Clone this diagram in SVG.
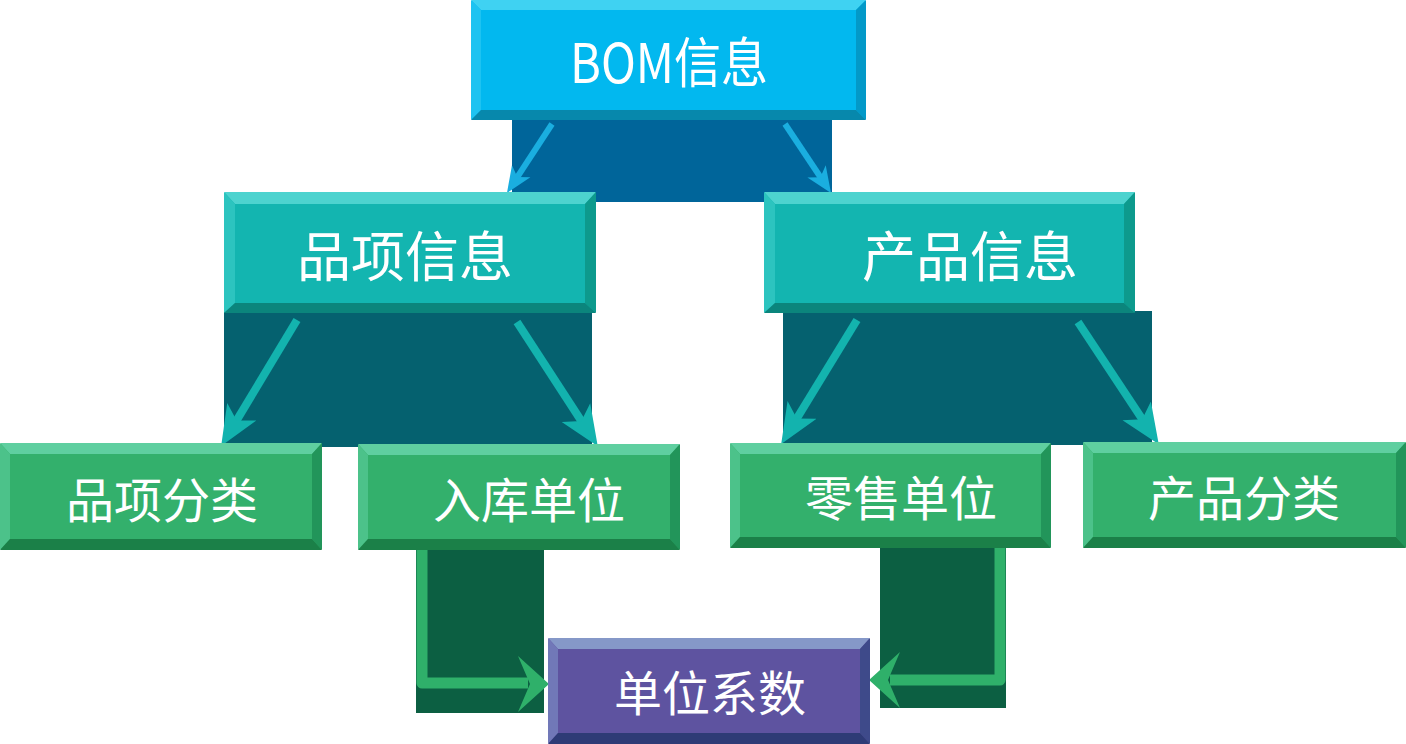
<svg xmlns="http://www.w3.org/2000/svg" width="1406" height="744" viewBox="0 0 1406 744">
<defs>
<style>
.t{font-family:"Noto Sans CJK SC","Liberation Sans",sans-serif;fill:#ffffff;text-anchor:middle}
.l1{font-size:54px}.l2{font-size:54px}.l3{font-size:48px}
.ab{fill:none;stroke:#1aaee0;stroke-width:6}
.at{fill:none;stroke:#13b3ae;stroke-width:8}
.ag{fill:none;stroke:#2fb06a;stroke-width:11;stroke-linejoin:round}
</style>
<marker id="mb" markerUnits="userSpaceOnUse" viewBox="0 -12 28 24" markerWidth="28" markerHeight="24" refX="8" refY="0" orient="auto">
<path d="M0,-11 L26,0 L0,11 L7,0 Z" fill="#1aaee0"/>
</marker>
<marker id="mt" markerUnits="userSpaceOnUse" viewBox="0 -18 42 36" markerWidth="42" markerHeight="36" refX="12" refY="0" orient="auto">
<path d="M0,-17 L40,0 L0,17 L10,0 Z" fill="#13b3ae"/>
</marker>
</defs>

<g id="backdrops">
<rect x="512" y="118" width="320" height="84" fill="#00659a"/>
<rect x="224" y="311" width="368" height="136" fill="#05616f"/>
<rect x="783" y="311" width="369" height="134" fill="#05616f"/>
<rect x="416" y="548" width="128" height="165" fill="#0c5f42"/>
<rect x="880" y="546" width="126" height="162" fill="#0c5f42"/>
</g>

<g id="connectors">
<line class="ab" x1="552" y1="124" x2="516.8" y2="177.9" marker-end="url(#mb)"/>
<line class="ab" x1="785" y1="124" x2="821" y2="178" marker-end="url(#mb)"/>
<line class="at" x1="297" y1="320" x2="235.6" y2="422.1" marker-end="url(#mt)"/>
<line class="at" x1="517" y1="322" x2="582.5" y2="422.7" marker-end="url(#mt)"/>
<line class="at" x1="857" y1="320" x2="795.8" y2="420.2" marker-end="url(#mt)"/>
<line class="at" x1="1078" y1="322" x2="1143.3" y2="420.8" marker-end="url(#mt)"/>
<path class="ag" d="M422,550 L422,683 L528,683"/>
<polygon points="549,684 518,656 530,684 518,712" fill="#2fb06a"/>
<path class="ag" d="M1000,548 L1000,680 L890,680"/>
<polygon points="869,680 900,652 888,680 900,708" fill="#2fb06a"/>
</g>

<g id="node-bom">
<rect x="471" y="0" width="395" height="120" rx="3" fill="#02b8ef"/>
<polygon points="471,0 866,0 856,10 481,10" fill="#3fd2f2"/>
<polygon points="471,0 481,10 481,110 471,120" fill="#1ec3f1"/>
<polygon points="866,0 856,10 856,110 866,120" fill="#0399c8"/>
<polygon points="471,120 866,120 856,110 481,110" fill="#0788ac"/>
<text class="t l1" x="669" y="83" textLength="198" lengthAdjust="spacingAndGlyphs">BOM信息</text>
</g>

<g id="node-pxxx">
<rect x="224" y="192" width="372" height="121" rx="3" fill="#13b5b0"/>
<polygon points="224,192 596,192 585,204 235,204" fill="#4dd3cf"/>
<polygon points="224,192 235,204 235,303 224,313" fill="#2cc4bf"/>
<polygon points="596,192 585,204 585,303 596,313" fill="#0d9a8d"/>
<polygon points="224,313 596,313 585,303 235,303" fill="#0b857c"/>
<text class="t l2" x="405" y="277">品项信息</text>
</g>

<g id="node-cpxx">
<rect x="764" y="192" width="371" height="121" rx="3" fill="#13b5b0"/>
<polygon points="764,192 1135,192 1124,204 775,204" fill="#4dd3cf"/>
<polygon points="764,192 775,204 775,303 764,313" fill="#2cc4bf"/>
<polygon points="1135,192 1124,204 1124,303 1135,313" fill="#0d9a8d"/>
<polygon points="764,313 1135,313 1124,303 775,303" fill="#0b857c"/>
<text class="t l2" x="970" y="277">产品信息</text>
</g>

<g id="node-pxfl">
<rect x="0" y="443" width="322" height="107" rx="3" fill="#33b06c"/>
<polygon points="0,443 322,443 312,454 10,454" fill="#5fcfa0"/>
<polygon points="0,443 10,454 10,539 0,550" fill="#4cc28a"/>
<polygon points="322,443 312,454 312,539 322,550" fill="#22955a"/>
<polygon points="0,550 322,550 312,539 10,539" fill="#1b8048"/>
<text class="t l3" x="162" y="518">品项分类</text>
</g>

<g id="node-rkdw">
<rect x="358" y="444" width="322" height="106" rx="3" fill="#33b06c"/>
<polygon points="358,444 680,444 670,455 368,455" fill="#5fcfa0"/>
<polygon points="358,444 368,455 368,539 358,550" fill="#4cc28a"/>
<polygon points="680,444 670,455 670,539 680,550" fill="#22955a"/>
<polygon points="358,550 680,550 670,539 368,539" fill="#1b8048"/>
<text class="t l3" x="529" y="518">入库单位</text>
</g>

<g id="node-lsdw">
<rect x="730" y="443" width="321" height="105" rx="3" fill="#33b06c"/>
<polygon points="730,443 1051,443 1041,454 740,454" fill="#5fcfa0"/>
<polygon points="730,443 740,454 740,537 730,548" fill="#4cc28a"/>
<polygon points="1051,443 1041,454 1041,537 1051,548" fill="#22955a"/>
<polygon points="730,548 1051,548 1041,537 740,537" fill="#1b8048"/>
<text class="t l3" x="901" y="516">零售单位</text>
</g>

<g id="node-cpfl">
<rect x="1083" y="442" width="323" height="106" rx="3" fill="#33b06c"/>
<polygon points="1083,442 1406,442 1396,453 1093,453" fill="#5fcfa0"/>
<polygon points="1083,442 1093,453 1093,537 1083,548" fill="#4cc28a"/>
<polygon points="1406,442 1396,453 1396,537 1406,548" fill="#22955a"/>
<polygon points="1083,548 1406,548 1396,537 1093,537" fill="#1b8048"/>
<text class="t l3" x="1244" y="516">产品分类</text>
</g>

<g id="node-dwxs">
<rect x="548" y="638" width="322" height="106" rx="3" fill="#5e53a0"/>
<polygon points="548,638 870,638 860,649 558,649" fill="#8598c8"/>
<polygon points="548,638 558,649 558,733 548,744" fill="#7178b8"/>
<polygon points="870,638 860,649 860,733 870,744" fill="#3e4a8a"/>
<polygon points="548,744 870,744 860,733 558,733" fill="#2e3b76"/>
<text class="t l3" x="710" y="711">单位系数</text>
</g>
</svg>
